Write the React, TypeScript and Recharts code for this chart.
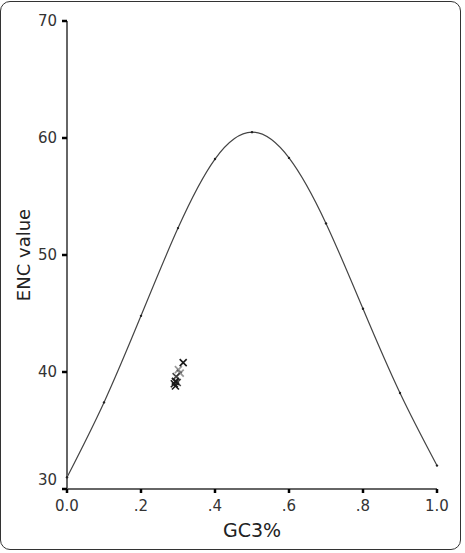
import React from 'react';
import { ComposedChart, Line, Scatter, XAxis, YAxis, Label } from 'recharts';

// expected ENC curve, read at GC3 steps of 0.1
const curveGc3 = [0, 0.1, 0.2, 0.3, 0.4, 0.5, 0.6, 0.7, 0.8, 0.9, 1.0];
const curveEnc = [31.0, 37.4, 44.8, 52.3, 58.2, 60.5, 58.3, 52.7, 45.4, 38.2, 32.0];

// observed genes
const geneGc3 = [0.314, 0.301, 0.306, 0.295, 0.293, 0.29, 0.298, 0.293];
const geneEnc = [40.8, 40.2, 39.9, 39.6, 39.2, 39.0, 39.1, 38.8];
const geneShade = [1, 0.45, 0.45, 0.8, 1, 1, 0.8, 1];

const xTicks = [0, 0.2, 0.4, 0.6, 0.8, 1.0];
const yTicks = [30, 40, 50, 60, 70];

const curve = curveGc3.map((x, i) => ({ x, y: curveEnc[i] }));
const genes = geneGc3.map((x, i) => ({ x, y: geneEnc[i], o: geneShade[i] }));

const fmtX = (v: number) => (v === 0 ? '0.0' : v === 1 ? '1.0' : v.toFixed(1).replace(/^0/, ''));

const Cross = (props: any) => {
  const { cx, cy, payload } = props;
  const s = 3.5;
  return (
    <g stroke="#1a1a1a" strokeWidth={1.6} opacity={payload.o}>
      <line x1={cx - s} y1={cy - s} x2={cx + s} y2={cy + s} />
      <line x1={cx - s} y1={cy + s} x2={cx + s} y2={cy - s} />
    </g>
  );
};

const YTick = (props: any) => {
  const { x, y, payload } = props;
  const dy = payload.value === 30 ? -9 : 0;
  return (
    <text x={x} y={y + dy} dy={5} textAnchor="end" fontSize={15} fill="#333" fontFamily="DejaVu Sans, Verdana, sans-serif">
      {payload.value}
    </text>
  );
};

export default function App() {
  return (
    <div style={{ position: 'absolute', left: 0, top: 0, width: 465, height: 553, background: '#fff' }}>
      <div
        style={{
          position: 'absolute',
          left: 0,
          top: 1,
          width: 461,
          height: 549,
          border: '1.5px solid #333',
          borderRadius: 10,
          boxSizing: 'border-box',
        }}
      />
      <ComposedChart
        width={465}
        height={553}
        margin={{ top: 21, right: 28, bottom: 4, left: 7 }}
        style={{ position: 'absolute', left: 0, top: 0, fontFamily: 'DejaVu Sans, Verdana, sans-serif' }}
      >
        <XAxis
          type="number"
          dataKey="x"
          domain={[0, 1]}
          ticks={xTicks}
          tickFormatter={fmtX}
          height={60}
          tickSize={4}
          tickMargin={7}
          axisLine={{ stroke: '#333', strokeWidth: 1.5 }}
          tickLine={{ stroke: '#000', strokeWidth: 2.5 }}
          tick={{ fontSize: 15, fill: '#333' }}
          allowDuplicatedCategory={false}
        >
          <Label value="GC3%" position="insideBottom" offset={12} style={{ fontSize: 19, fill: '#222' }} />
        </XAxis>
        <YAxis
          type="number"
          dataKey="y"
          domain={[30, 70]}
          ticks={yTicks}
          width={60}
          tickSize={5}
          tickMargin={5}
          axisLine={{ stroke: '#666', strokeWidth: 2 }}
          tickLine={{ stroke: '#000', strokeWidth: 2.5 }}
          tick={<YTick />}
        >
          <Label value="ENC value" angle={-90} position="insideLeft" offset={17} style={{ fontSize: 18, fill: '#222', textAnchor: 'middle' }} />
        </YAxis>
        <Line
          data={curve}
          dataKey="y"
          type="natural"
          stroke="#444"
          strokeWidth={1.2}
          dot={{ r: 1.2, fill: '#222', stroke: 'none' }}
          activeDot={false}
          isAnimationActive={false}
        />
        <Scatter data={genes} dataKey="y" shape={<Cross />} isAnimationActive={false} />
      </ComposedChart>
    </div>
  );
}
